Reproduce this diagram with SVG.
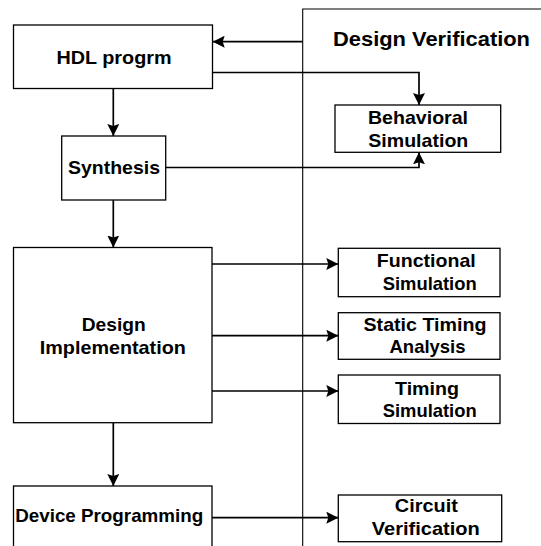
<svg xmlns="http://www.w3.org/2000/svg" width="541" height="546" viewBox="0 0 541 546">
<style>
  .box { fill: #ffffff; stroke: #000000; stroke-width: 1.3; }
  .panel { fill: none; stroke: #000000; stroke-width: 1.1; }
  .conn { fill: none; stroke: #000000; stroke-width: 1.7; marker-end: url(#arrow); }
  .lbl { font-family: "Liberation Sans", Arial, sans-serif; font-weight: bold; font-size: 19px; fill: #000000; text-anchor: middle; }
  .title { font-size: 20.5px; }
</style>
<defs>
  <marker id="arrow" markerUnits="userSpaceOnUse" markerWidth="13" markerHeight="12" refX="12" refY="6" orient="auto">
    <path d="M0,0 L12,6 L0,12 L2,6 z" fill="#000000"/>
  </marker>
</defs>
<rect width="541" height="546" fill="#ffffff"/>

<g id="design-verification-panel">
  <path class="panel" d="M302.7,546 L302.7,9 L541,9"/>
  <text class="lbl title" x="431.5" y="45.5" textLength="197" lengthAdjust="spacingAndGlyphs">Design Verification</text>
</g>

<g id="connectors">
  <path class="conn" d="M302.7,41.7 L212.7,41.7"/>
  <path class="conn" d="M212.5,72.5 L419,72.5 L419,105"/>
  <path class="conn" d="M165.7,167.5 L419,167.5 L419,152.3"/>
  <path class="conn" d="M113.3,88.5 L113.3,136"/>
  <path class="conn" d="M113.3,200 L113.3,247.5"/>
  <path class="conn" d="M113.3,422.7 L113.3,486"/>
  <path class="conn" d="M212,264 L338.3,264"/>
  <path class="conn" d="M212,335.7 L338.3,335.7"/>
  <path class="conn" d="M212,391 L338.3,391"/>
  <path class="conn" d="M206,517.7 L338.3,517.7"/>
</g>

<g id="hdl-program">
  <rect class="box" x="13.5" y="25" width="199" height="63.5"/>
  <text class="lbl" x="114" y="63.5" textLength="115" lengthAdjust="spacingAndGlyphs">HDL progrm</text>
</g>

<g id="synthesis">
  <rect class="box" x="61.7" y="136" width="104" height="64"/>
  <text class="lbl" x="114" y="174" textLength="92" lengthAdjust="spacingAndGlyphs">Synthesis</text>
</g>

<g id="design-implementation">
  <rect class="box" x="13.5" y="247.5" width="198.5" height="175.2"/>
  <text class="lbl" x="113.7" y="330.7" textLength="64" lengthAdjust="spacingAndGlyphs">Design</text>
  <text class="lbl" x="112.8" y="354.3" textLength="146" lengthAdjust="spacingAndGlyphs">Implementation</text>
</g>

<g id="device-programming">
  <rect class="box" x="13.5" y="486" width="198.5" height="80"/>
  <text class="lbl" x="109.2" y="521.7" textLength="188" lengthAdjust="spacingAndGlyphs">Device Programming</text>
</g>

<g id="behavioral-simulation">
  <rect class="box" x="335" y="105" width="165.7" height="47.3"/>
  <text class="lbl" x="418" y="123.5" textLength="100" lengthAdjust="spacingAndGlyphs">Behavioral</text>
  <text class="lbl" x="418.3" y="146.5" textLength="100" lengthAdjust="spacingAndGlyphs">Simulation</text>
</g>

<g id="functional-simulation">
  <rect class="box" x="338.3" y="248.3" width="161.7" height="48.4"/>
  <text class="lbl" x="426.3" y="266.7" textLength="99" lengthAdjust="spacingAndGlyphs">Functional</text>
  <text class="lbl" x="429.7" y="290" textLength="94" lengthAdjust="spacingAndGlyphs">Simulation</text>
</g>

<g id="static-timing-analysis">
  <rect class="box" x="338.3" y="312.7" width="161.7" height="46.6"/>
  <text class="lbl" x="425" y="330.7" textLength="123" lengthAdjust="spacingAndGlyphs">Static Timing</text>
  <text class="lbl" x="427.5" y="353.3" textLength="76" lengthAdjust="spacingAndGlyphs">Analysis</text>
</g>

<g id="timing-simulation">
  <rect class="box" x="338.3" y="375" width="161.7" height="48.5"/>
  <text class="lbl" x="427" y="395" textLength="64" lengthAdjust="spacingAndGlyphs">Timing</text>
  <text class="lbl" x="429.7" y="416.7" textLength="94" lengthAdjust="spacingAndGlyphs">Simulation</text>
</g>

<g id="circuit-verification">
  <rect class="box" x="338.3" y="495" width="163.4" height="46.7"/>
  <text class="lbl" x="426.3" y="511.7" textLength="63" lengthAdjust="spacingAndGlyphs">Circuit</text>
  <text class="lbl" x="425.8" y="535" textLength="108" lengthAdjust="spacingAndGlyphs">Verification</text>
</g>
</svg>
